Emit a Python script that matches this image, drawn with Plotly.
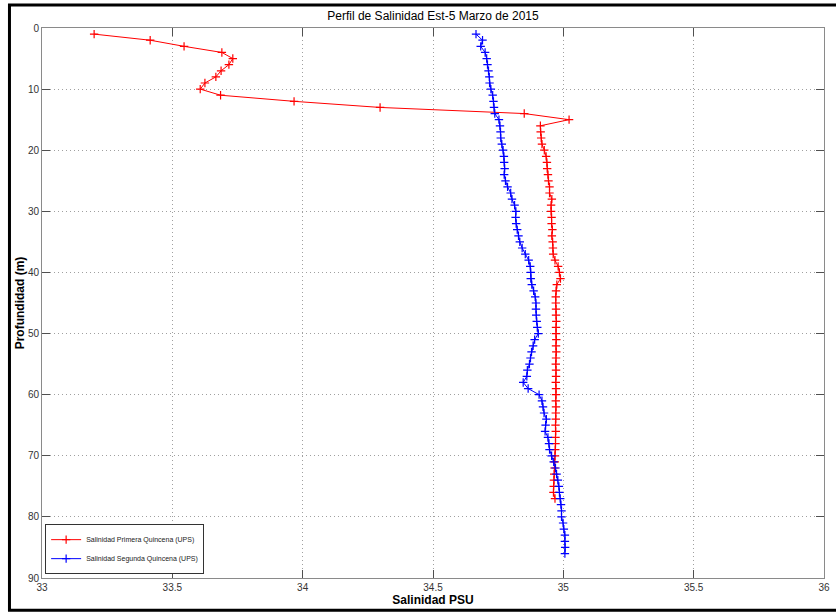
import plotly.graph_objects as go

# ---- data ----
depth_primera = list(range(1, 78))          # m
sal_primera = [
    33.200, 33.415, 33.545, 33.690, 33.732, 33.717, 33.687, 33.667, 33.625, 33.607,
    33.685, 33.967, 34.297, 34.850, 35.022, 34.912, 34.913, 34.915, 34.918, 34.927,
    34.934, 34.937, 34.938, 34.941, 34.943, 34.947, 34.947, 34.956, 34.953, 34.953,
    34.955, 34.955, 34.958, 34.956, 34.959, 34.960, 34.961, 34.968, 34.980, 34.985,
    34.989, 34.975, 34.972, 34.971, 34.971, 34.972, 34.972, 34.973, 34.972, 34.972,
    34.973, 34.972, 34.973, 34.972, 34.971, 34.972, 34.972, 34.971, 34.972, 34.972,
    34.971, 34.972, 34.971, 34.971, 34.970, 34.971, 34.970, 34.970, 34.969, 34.968,
    34.967, 34.966, 34.965, 34.964, 34.963, 34.962, 34.968,
]

depth_segunda = list(range(1, 87))          # m
sal_segunda = [
    34.665, 34.690, 34.683, 34.700, 34.706, 34.709, 34.713, 34.716, 34.717, 34.722,
    34.729, 34.732, 34.734, 34.737, 34.753, 34.757, 34.759, 34.760, 34.764, 34.769,
    34.772, 34.773, 34.775, 34.773, 34.778, 34.786, 34.798, 34.803, 34.813, 34.818,
    34.817, 34.819, 34.823, 34.828, 34.833, 34.842, 34.854, 34.867, 34.873, 34.875,
    34.875, 34.879, 34.886, 34.892, 34.895, 34.895, 34.896, 34.898, 34.900, 34.904,
    34.890, 34.884, 34.878, 34.874, 34.870, 34.862, 34.860, 34.846, 34.865, 34.907,
    34.918, 34.922, 34.926, 34.935, 34.932, 34.930, 34.941, 34.945, 34.947, 34.955,
    34.963, 34.970, 34.974, 34.979, 34.983, 34.985, 34.988, 34.991, 34.993, 34.993,
    34.999, 35.002, 35.006, 35.006, 35.007, 35.006,
]

x_ticks = [33, 33.5, 34, 34.5, 35, 35.5, 36]
y_ticks = [0, 10, 20, 30, 40, 50, 60, 70, 80, 90]

FONT = "Liberation Sans, Arial, Helvetica, sans-serif"

fig = go.Figure()
fig.add_trace(go.Scatter(
    x=sal_primera, y=depth_primera, mode="lines+markers",
    name="Salinidad Primera Quincena (UPS)",
    line=dict(color="#ff0000", width=1),
    marker=dict(symbol="cross-thin", size=6, color="#ff0000",
                line=dict(color="#ff0000", width=1.2)),
))
fig.add_trace(go.Scatter(
    x=sal_segunda, y=depth_segunda, mode="lines+markers",
    name="Salinidad Segunda Quincena (UPS)",
    line=dict(color="#0000ff", width=1),
    marker=dict(symbol="cross-thin", size=6, color="#0000ff",
                line=dict(color="#0000ff", width=1.2)),
))

axis_common = dict(
    showline=True, linecolor="#8a8a8a", linewidth=1, mirror="allticks",
    ticks="inside", ticklen=8, tickcolor="#505050", tickwidth=1,
    showgrid=True, gridcolor="#a0a0a0", griddash="1px,3px", gridwidth=1,
    zeroline=False, automargin=False,
    tickfont=dict(family=FONT, size=10, color="#333333"),
)

fig.update_xaxes(
    range=[33, 36], tickvals=x_ticks, ticktext=[str(v) for v in x_ticks],
    title=dict(text="Salinidad PSU", standoff=2,
               font=dict(family=FONT, size=12, color="#000000", weight="bold")),
    **axis_common,
)
fig.update_yaxes(
    range=[90, 0], tickvals=y_ticks,
    title=dict(text="Profundidad (m)", standoff=0,
               font=dict(family=FONT, size=12, color="#000000", weight="bold")),
    **axis_common,
)

fig.update_layout(
    width=836, height=613,
    margin=dict(l=42, r=12, t=28, b=35, autoexpand=False),
    paper_bgcolor="white", plot_bgcolor="white",
    title=dict(text="Perfil de Salinidad Est-5 Marzo de 2015",
               x=0.5, xref="paper", xanchor="center",
               y=0.974, yanchor="middle",
               font=dict(family=FONT, size=12, color="#000000")),
    legend=dict(x=0.004, y=0.007, xanchor="left", yanchor="bottom",
                bgcolor="white", bordercolor="#333333", borderwidth=1,
                font=dict(family=FONT, size=7, color="#222222"),
                itemwidth=30, tracegroupgap=0),
    showlegend=True,
    shapes=[dict(type="rect", xref="paper", yref="paper",
                 x0=-0.0416, x1=1.03, y0=-0.0587, y1=1.0418,
                 line=dict(color="#000000", width=3), layer="above")],
)

fig.write_html(
    "out.html",
    config={"displayModeBar": False},
    post_script="document.body.style.margin='0';document.body.style.padding='0';"
                "document.body.style.overflow='hidden';",
)
